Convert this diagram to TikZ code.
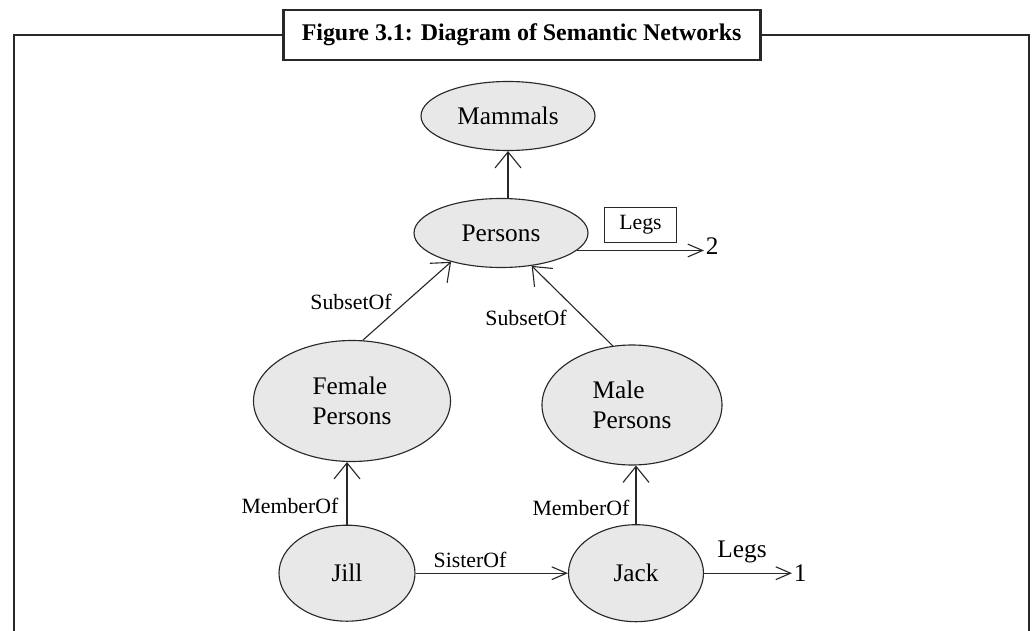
\documentclass[tikz,border=0pt]{standalone}
\usepackage{fontspec}
\setmainfont{Liberation Serif}
\usetikzlibrary{arrows.meta,calc,positioning,shapes.geometric}
\definecolor{nodefill}{RGB}{232,232,232}
\definecolor{inkgray}{RGB}{40,40,40}

\begin{document}
\begin{tikzpicture}[>={Straight Barb[length=0.4cm,width=0.65cm]},line width=0.8pt,
  concept/.style={ellipse,draw=inkgray,fill=nodefill,inner sep=0pt,align=left,
                  font=\fontsize{18}{21}\selectfont},
  rel/.style={font=\fontsize{15.5}{18}\selectfont,inner sep=1pt},
  big/.style={font=\fontsize{18}{21}\selectfont,inner sep=1pt},
  flat/.style={-{Straight Barb[length=0.37cm,width=0.32cm]}}]
  \useasboundingbox (0,0) rectangle (25.825,15.75);
  % frame with title box
  \node[draw=inkgray,line width=2pt,minimum width=11.925cm,minimum height=1.25cm,
        font=\fontsize{17}{20}\selectfont\bfseries] (title) at (13.04,14.875)
        {Figure 3.1: Diagram of Semantic Networks};
  \draw[inkgray,line width=2pt] (title.west) -- (0.35,14.875) -- (0.35,-0.1);
  \draw[inkgray,line width=2pt] (title.east) -- (25.725,14.875) -- (25.725,-0.1);
  % concepts
  \node[concept,minimum width=4.35cm,minimum height=1.725cm] (mammals) at (12.7,12.85) {Mammals};
  \node[concept,minimum width=4.35cm,minimum height=1.725cm] (persons) at (12.525,9.925) {Persons};
  \node[concept,minimum width=4.925cm,minimum height=3.025cm] (female) at (8.8,5.725) {Female\\Persons};
  \node[concept,minimum width=4.5cm,minimum height=3cm] (male) at (15.8,5.625) {Male\\Persons};
  \node[concept,minimum width=3.4cm,minimum height=2.4cm] (jill) at (8.675,1.42) {Jill};
  \node[concept,minimum width=3.375cm,minimum height=2.425cm] (jack) at (15.9,1.42) {Jack};
  % values
  \node[draw=inkgray,rel,minimum width=1.8cm,minimum height=0.875cm] (legsbox) at (16.0125,10.125) {Legs};
  \node[big,anchor=west] (two) at (17.6,9.6) {2};
  \node[big,anchor=west] (one) at (19.8,1.42) {1};
  % links
  \draw[->,inkgray] (mammals.south |- persons.north) -- (mammals.south);
  \draw[->,inkgray] (female.80) -- (persons.210);
  \draw[->,inkgray] (male.108) -- (persons.313);
  \draw[->,inkgray] (jill.north) -- (jill.north |- female.south);
  \draw[->,inkgray] (jack.north) -- (jack.north |- male.south);
  \draw[flat,inkgray] (jill.east) -- (jack.west);
  \draw[flat,inkgray] (persons.-13) -- (persons.-13 -| two.west);
  \draw[flat,inkgray] (jack.east) -- (one.west);
  % link labels
  \node[rel] (sub1) at (8.775,8.2) {SubsetOf};
  \node[rel] (sub2) at (13.15,7.8) {SubsetOf};
  \node[rel] (mem1) at (7.25,3.1) {MemberOf};
  \node[rel] (mem2) at (14.525,3.05) {MemberOf};
  \node[rel] (sister) at (11.75,1.75) {SisterOf};
  \node[big] (legs) at (18.55,1.95) {Legs};
\end{tikzpicture}
\end{document}
